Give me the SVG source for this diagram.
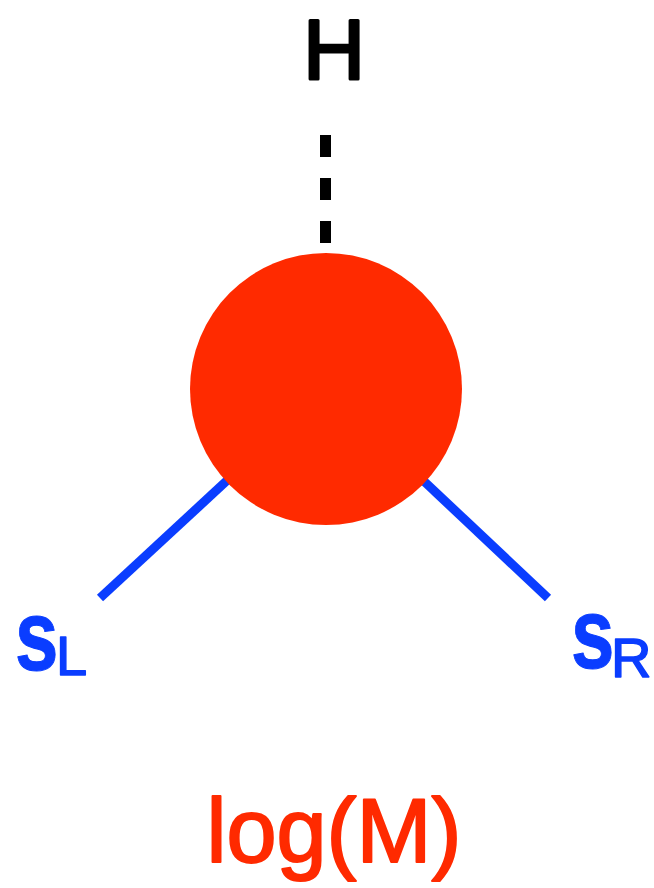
<svg xmlns="http://www.w3.org/2000/svg" width="654" height="888" viewBox="0 0 654 888">
<style>
.lbl{font-family:"Liberation Sans","DejaVu Sans",sans-serif;stroke-linejoin:round;stroke-linecap:round}
.blue{fill:#0a3dff;stroke:#0a3dff}
.red{fill:#ff2a00;stroke:#ff2a00}
.bond{stroke:#0a3dff;stroke-width:9;fill:none}
</style>
<rect width="654" height="888" fill="#ffffff"/>
<g id="connectors">
<line x1="325.5" y1="135" x2="325.5" y2="243" stroke="#000" stroke-width="11" stroke-dasharray="22 21"/>
<line class="bond" x1="326" y1="389" x2="100" y2="598"/>
<line class="bond" x1="326" y1="389" x2="548" y2="598"/>
</g>
<g id="node-M">
<circle cx="326" cy="389" r="136" fill="#ff2a00"/>
</g>
<g id="node-H">
<text class="lbl" x="334" y="79" font-size="86" text-anchor="middle" fill="#000" stroke="#000" stroke-width="3">H</text>
</g>
<g id="node-sL">
<text class="lbl blue" transform="translate(15,670) scale(0.78,1)" font-size="100" font-weight="bold" stroke-width="1">s</text>
<text class="lbl blue" x="56" y="675" font-size="56" stroke-width="1.5">L</text>
</g>
<g id="node-sR">
<text class="lbl blue" transform="translate(571,668) scale(0.78,1)" font-size="100" font-weight="bold" stroke-width="1">s</text>
<text class="lbl blue" x="611" y="677" font-size="56" stroke-width="1.5">R</text>
</g>
<g id="label-logM">
<text class="lbl red" x="334" y="862" font-size="90" text-anchor="middle" stroke-width="2">log(M)</text>
</g>
</svg>
